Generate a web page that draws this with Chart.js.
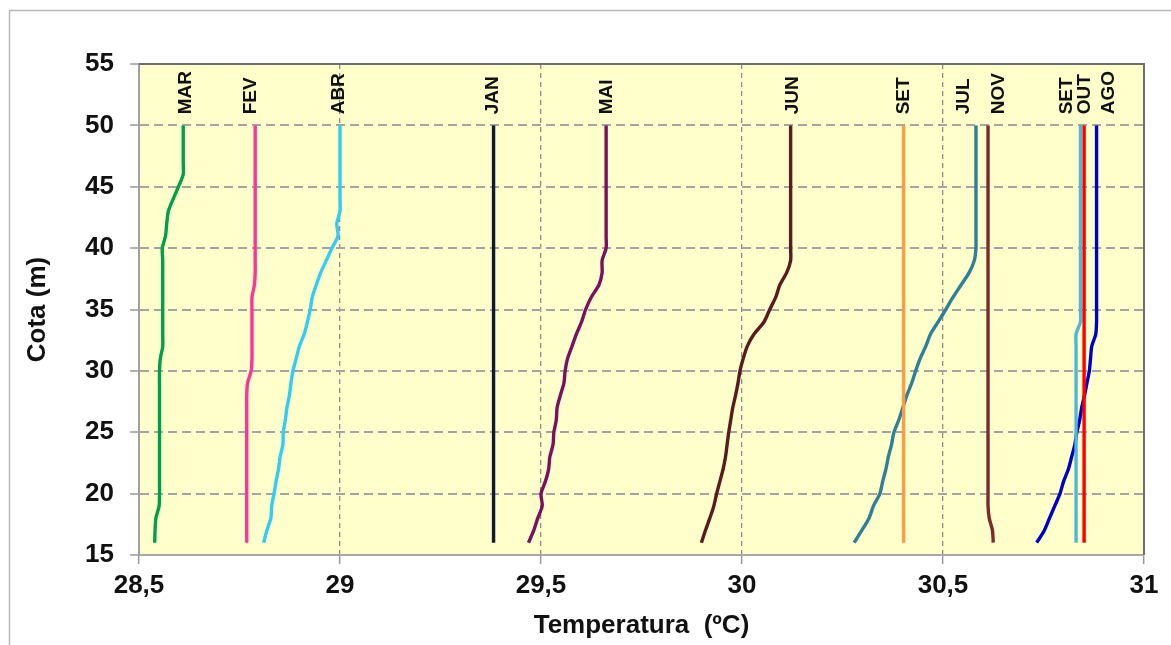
<!DOCTYPE html>
<html lang="pt">
<head>
<meta charset="utf-8">
<title>Perfis de temperatura</title>
<script src="https://cdn.jsdelivr.net/npm/chart.js@4.4.0/dist/chart.umd.min.js"></script>
<style>
  html, body { margin: 0; padding: 0; background: #fff; }
  #wrap { width: 1171px; height: 645px; }
</style>
</head>
<body>
<div id="wrap"><canvas id="perfilChart" width="1171" height="645"></canvas></div>
<script>
// ── Data ─────────────────────────────────────────────────
// cota (m), bottom to top, one reading per metre
const cota     = [16, 17, 18, 19, 20, 21, 22, 23, 24, 25, 26, 27, 28, 29, 30, 31, 32, 33,
                  34, 35, 36, 37, 38, 39, 40, 41, 42, 43, 44, 45, 46, 47, 48, 49, 50];
const cotaEnds = [16, 50];   // profiles that are a single straight line

const tempMar = [28.539, 28.540, 28.542, 28.550, 28.551, 28.551, 28.551, 28.551, 28.551, 28.551,
                 28.551, 28.551, 28.551, 28.551, 28.551, 28.553, 28.559, 28.559, 28.559, 28.559,
                 28.559, 28.559, 28.559, 28.559, 28.558, 28.566, 28.569, 28.573, 28.585, 28.598,
                 28.610, 28.610, 28.610, 28.610, 28.610];
const tempFev = [28.768, 28.768, 28.768, 28.768, 28.768, 28.768, 28.768, 28.768, 28.768, 28.768,
                 28.768, 28.768, 28.768, 28.770, 28.779, 28.781, 28.781, 28.781, 28.781, 28.781,
                 28.781, 28.787, 28.789, 28.789, 28.789, 28.789, 28.789, 28.789, 28.789, 28.789,
                 28.789, 28.789, 28.789, 28.789, 28.789];
const tempAbr = [28.810, 28.818, 28.828, 28.830, 28.836, 28.841, 28.847, 28.851, 28.858, 28.859,
                 28.864, 28.868, 28.874, 28.878, 28.883, 28.891, 28.899, 28.911, 28.919, 28.926,
                 28.931, 28.941, 28.952, 28.966, 28.980, 28.995, 28.992, 29.000, 29.000, 29.000,
                 29.000, 29.000, 29.000, 29.000, 29.000];
const tempJan = [29.382, 29.382];
const tempMai = [29.469, 29.482, 29.492, 29.503, 29.500, 29.511, 29.519, 29.522, 29.530, 29.532,
                 29.538, 29.540, 29.548, 29.557, 29.560, 29.566, 29.577, 29.588, 29.601, 29.611,
                 29.625, 29.644, 29.652, 29.652, 29.662, 29.662, 29.662, 29.662, 29.662, 29.662,
                 29.662, 29.662, 29.662, 29.662, 29.662];
const tempJun = [29.899, 29.909, 29.920, 29.930, 29.937, 29.945, 29.953, 29.959, 29.963, 29.967,
                 29.972, 29.977, 29.984, 29.990, 29.995, 30.003, 30.013, 30.030, 30.055, 30.069,
                 30.084, 30.094, 30.111, 30.121, 30.121, 30.121, 30.121, 30.121, 30.121, 30.121,
                 30.121, 30.121, 30.121, 30.121, 30.121];
const tempSet = [30.402, 30.402];
const tempJul = [30.279, 30.298, 30.316, 30.327, 30.343, 30.350, 30.358, 30.364, 30.372, 30.378,
                 30.390, 30.400, 30.410, 30.422, 30.432, 30.443, 30.457, 30.469, 30.488, 30.507,
                 30.525, 30.545, 30.565, 30.578, 30.582, 30.582, 30.582, 30.582, 30.582, 30.582,
                 30.582, 30.582, 30.582, 30.582, 30.582];
const tempNov = [30.625, 30.623, 30.615, 30.612, 30.612, 30.612, 30.612, 30.612, 30.612, 30.612,
                 30.612, 30.612, 30.612, 30.612, 30.612, 30.612, 30.612, 30.612, 30.612, 30.612,
                 30.612, 30.612, 30.612, 30.612, 30.612, 30.612, 30.612, 30.612, 30.612, 30.612,
                 30.612, 30.612, 30.612, 30.612, 30.612];
const tempSet2 = [30.831, 30.831, 30.831, 30.831, 30.831, 30.831, 30.831, 30.831, 30.831, 30.831,
                  30.831, 30.831, 30.831, 30.831, 30.831, 30.831, 30.831, 30.831, 30.842, 30.842,
                  30.842, 30.842, 30.842, 30.842, 30.842, 30.842, 30.842, 30.842, 30.842, 30.842,
                  30.842, 30.842, 30.842, 30.842, 30.842];
const tempOut = [30.851, 30.851];
const tempAgo = [30.733, 30.752, 30.765, 30.778, 30.791, 30.800, 30.812, 30.820, 30.828, 30.833,
                 30.840, 30.845, 30.852, 30.858, 30.864, 30.867, 30.870, 30.880, 30.882, 30.882,
                 30.882, 30.882, 30.882, 30.882, 30.882, 30.882, 30.882, 30.882, 30.882, 30.882,
                 30.882, 30.882, 30.882, 30.882, 30.882];

// month tags written above each profile (temperature where each tag sits)
const tagNames = ["MAR", "FEV", "ABR", "JAN", "MAI", "JUN", "SET", "JUL", "NOV", "SET", "OUT", "AGO"];
const tagTemps = [28.615, 28.776, 28.995, 29.378, 29.660, 30.125, 30.399, 30.548, 30.636, 30.806, 30.851, 30.910];
const tagCota  = 50.9;

const xTickLabels = ["28,5", "29", "29,5", "30", "30,5", "31"];
const yTickLabels = ["15", "20", "25", "30", "35", "40", "45", "50", "55"];

// ── Series (drawing order: later ones on top) ────────────
const series = [
  { label: "JAN", temps: tempJan,  color: "#0c1a36" },
  { label: "FEV", temps: tempFev,  color: "#ff3399" },
  { label: "MAR", temps: tempMar,  color: "#00a04a" },
  { label: "ABR", temps: tempAbr,  color: "#33ccf5" },
  { label: "MAI", temps: tempMai,  color: "#7a1062" },
  { label: "JUN", temps: tempJun,  color: "#5a1b1e" },
  { label: "JUL", temps: tempJul,  color: "#2e8098" },
  { label: "AGO", temps: tempAgo,  color: "#0000c8" },
  { label: "SET", temps: tempSet,  color: "#ff9a45" },
  { label: "SET", temps: tempSet2, color: "#4db8d8" },
  { label: "OUT", temps: tempOut,  color: "#ff0000" },
  { label: "NOV", temps: tempNov,  color: "#7c2a2c" }
];

const datasets = series.map((s, i) => {
  const depths = s.temps.length === cota.length ? cota : cotaEnds;
  return {
    label:           s.label,
    data:            s.temps.map((t, k) => ({ x: t, y: depths[k] })),
    showLine:        true,
    borderColor:     s.color,
    backgroundColor: s.color,
    borderWidth:     3.4,
    pointRadius:     0,
    tension:         0.25,
    order:           -i
  };
});

// ── Plugins ──────────────────────────────────────────────
const FONT = "'Liberation Sans', Arial, sans-serif";

const frame = {
  id: "frame",
  beforeDraw(chart) {
    const { ctx, chartArea: a } = chart;
    ctx.save();
    // outer grey frame of the picture
    ctx.strokeStyle = "#b8b8b8";
    ctx.lineWidth = 1.5;
    ctx.beginPath();
    ctx.moveTo(9.5, 660);
    ctx.lineTo(9.5, 10.5);
    ctx.lineTo(1180, 10.5);
    ctx.stroke();
    // plot background
    ctx.fillStyle = "#ffffcc";
    ctx.fillRect(a.left, a.top, a.right - a.left, a.bottom - a.top);
    ctx.restore();
  },
  afterDraw(chart) {
    const { ctx, chartArea: a } = chart;
    ctx.save();
    ctx.strokeStyle = "#6e6e6e";
    ctx.lineWidth = 2;
    ctx.beginPath();
    ctx.moveTo(a.left, a.top);
    ctx.lineTo(a.right, a.top);
    ctx.lineTo(a.right, a.bottom);
    ctx.stroke();
    ctx.restore();
  }
};

const monthTags = {
  id: "monthTags",
  afterDatasetsDraw(chart) {
    const { ctx, scales: { x, y } } = chart;
    ctx.save();
    ctx.font = "bold 19px " + FONT;
    ctx.fillStyle = "#111";
    ctx.textAlign = "left";
    ctx.textBaseline = "middle";
    tagNames.forEach((name, i) => {
      ctx.save();
      ctx.translate(x.getPixelForValue(tagTemps[i]), y.getPixelForValue(tagCota));
      ctx.rotate(-Math.PI / 2);
      ctx.fillText(name, 0, 1);
      ctx.restore();
    });
    ctx.restore();
  }
};

// ── Chart ────────────────────────────────────────────────
new Chart(document.getElementById("perfilChart").getContext("2d"), {
  type: "scatter",
  data: { datasets: datasets },
  options: {
    responsive: false,
    animation:  false,
    layout: { padding: { top: 64, right: 27, bottom: 0, left: 0 } },
    plugins: {
      legend:  { display: false },
      tooltip: { enabled: false }
    },
    scales: {
      x: {
        type: "linear",
        min: 28.5,
        max: 31,
        afterFit(scale) { scale.height = 90; },
        ticks: {
          stepSize: 0.5,
          padding:  6,
          color:    "#111",
          font:     { family: FONT, size: 26, weight: "bold" },
          callback: (value, index) => xTickLabels[index]
        },
        grid: {
          color:          "#8c8c8c",
          lineWidth:      1.3,
          tickLength:     9,
          tickColor:      "#9a9a9a",
          tickWidth:      1.5,
          tickBorderDash: []
        },
        // border.dash is what dashes the grid lines in v4
        border: { color: "#a8a8a8", width: 2, dash: [5, 4] },
        title: {
          display: true,
          text:    "Temperatura  (ºC)",
          color:   "#111",
          font:    { family: FONT, size: 26, weight: "bold" },
          padding: { top: 0, bottom: 4 }
        }
      },
      y: {
        type: "linear",
        min: 15,
        max: 55,
        afterFit(scale) { scale.width = 139; },
        ticks: {
          stepSize: 5,
          padding:  16,
          color:    "#111",
          font:     { family: FONT, size: 26, weight: "bold" },
          callback: (value, index) => yTickLabels[index]
        },
        grid: {
          color:          "#a4a4a4",
          lineWidth:      2,
          tickLength:     9,
          tickColor:      "#9a9a9a",
          tickWidth:      1.5,
          tickBorderDash: []
        },
        border: { color: "#a0a0a0", width: 2, dash: [9, 5] },
        title: {
          display: true,
          text:    "Cota (m)",
          color:   "#111",
          font:    { family: FONT, size: 26, weight: "bold" },
          padding: { top: 22, bottom: 0 }
        }
      }
    }
  },
  plugins: [frame, monthTags]
});
</script>
</body>
</html>
